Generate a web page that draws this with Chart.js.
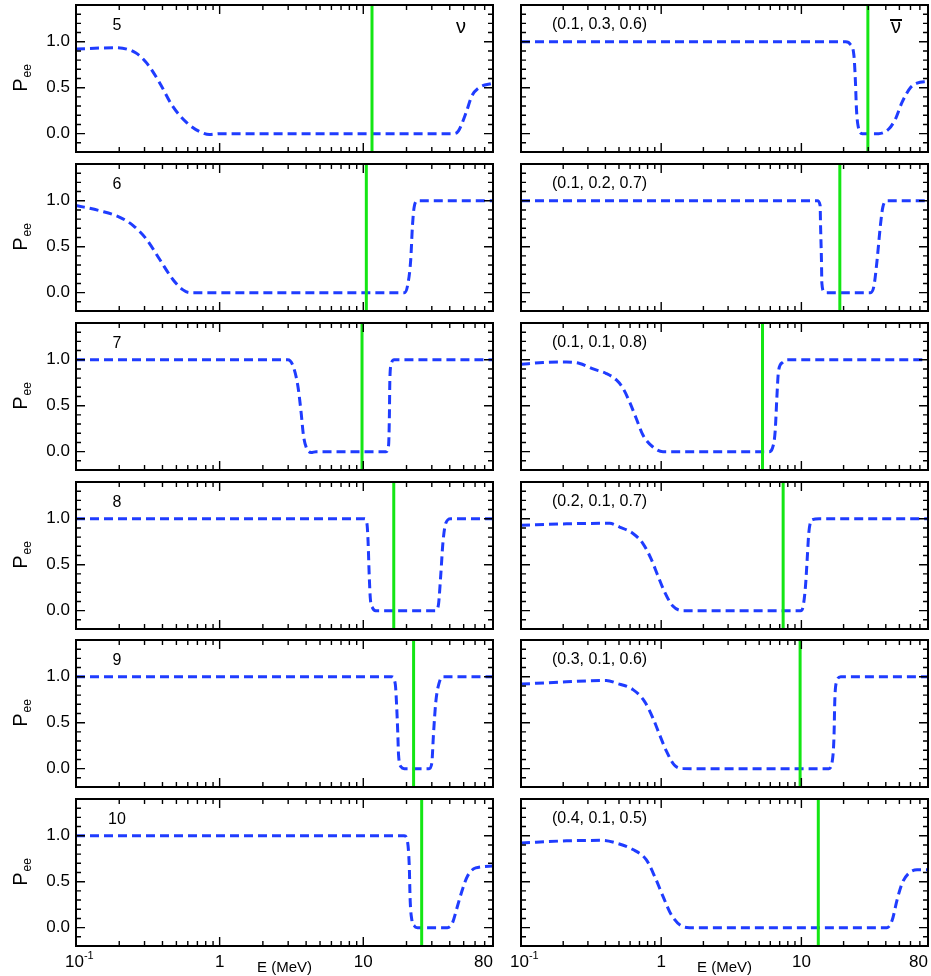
<!DOCTYPE html>
<html>
<head>
<meta charset="utf-8">
<script src="https://cdn.jsdelivr.net/npm/chart.js@4.4.1/dist/chart.umd.min.js"></script>
<style>
  body { margin: 0; background: #fff; width: 931px; height: 976px; position: relative; overflow: hidden; }
  canvas { position: absolute; }
</style>
</head>
<body>
<script>
// ---- data: energy E (MeV) and P_ee ----
// left column (nu), labelled 5..10
const e5 = [0.1, 0.19, 0.26, 0.31, 0.38, 0.47, 0.59, 0.73, 0.85, 1.0, 43, 46, 52, 57, 64, 80];
const p5 = [0.92, 0.935, 0.88, 0.77, 0.56, 0.30, 0.12, 0.02, -0.01, 0, 0, 0.03, 0.23, 0.41, 0.50, 0.55];
const e6 = [0.1, 0.147, 0.202, 0.25, 0.31, 0.383, 0.474, 0.556, 0.619, 19.3, 20.3, 21.4, 22.0, 22.6, 23.8, 80];
const p6 = [0.95, 0.89, 0.82, 0.73, 0.58, 0.36, 0.14, 0.03, 0, 0, 0.07, 0.36, 0.73, 0.93, 1.0, 1.0];
const e7 = [0.1, 2.98, 3.23, 3.50, 3.69, 3.83, 4.00, 4.33, 4.69, 14.4, 15.0, 15.2, 15.3, 15.6, 16.4, 80];
const p7 = [1, 1, 0.94, 0.72, 0.43, 0.18, 0.05, -0.01, 0, 0, 0.07, 0.40, 0.76, 0.94, 1, 1];
const e8 = [0.1, 10.2, 10.6, 10.8, 11.0, 11.2, 11.6, 12.2, 32.0, 33.4, 34.6, 35.9, 37.5, 40.6, 80];
const p8 = [1, 1, 0.95, 0.75, 0.38, 0.13, 0.03, 0, 0, 0.07, 0.38, 0.75, 0.95, 1.0, 1.0];
const e9 = [0.1, 15.8, 16.7, 17.1, 17.4, 17.6, 18.3, 19.3, 28.7, 30.0, 30.8, 32.0, 33.7, 35.6, 80];
const p9 = [1, 1, 0.92, 0.66, 0.37, 0.15, 0.02, 0, 0, 0.06, 0.37, 0.73, 0.93, 1, 1];
const e10 = [0.1, 19.3, 20.3, 20.9, 21.2, 21.8, 22.6, 23.8, 38.5, 41.7, 45.2, 48.9, 53.1, 60.6, 80];
const p10 = [1, 1, 0.94, 0.67, 0.30, 0.08, 0.02, 0, 0, 0.05, 0.23, 0.41, 0.56, 0.65, 0.67];

// right column (anti-nu), labelled by mixture
const eA = [0.1, 20.7, 22.4, 23.7, 24.3, 24.7, 25.4, 27.2, 35.6, 42.0, 46.9, 52.2, 59.9, 66.8, 80];
const pA = [1, 1, 0.97, 0.85, 0.56, 0.27, 0.08, 0, 0, 0.05, 0.16, 0.34, 0.50, 0.55, 0.57];
const eB = [0.1, 13.0, 13.6, 13.7, 13.9, 14.0, 14.5, 15.3, 31.1, 32.9, 34.7, 36.6, 38.1, 40.8, 80];
const pB = [1, 1, 0.95, 0.73, 0.36, 0.10, 0.01, 0, 0, 0.07, 0.36, 0.73, 0.93, 1, 1];
const eC = [0.1, 0.144, 0.211, 0.262, 0.327, 0.406, 0.479, 0.534, 0.595, 0.664, 0.741, 0.873, 1.03, 5.89, 6.22, 6.50, 6.68, 6.86, 7.33, 7.95, 80];
const pC = [0.95, 0.97, 0.975, 0.96, 0.90, 0.85, 0.78, 0.69, 0.54, 0.36, 0.18, 0.05, 0, 0, 0.04, 0.22, 0.58, 0.87, 0.97, 1, 1];
const eD = [0.1, 0.211, 0.429, 0.505, 0.629, 0.741, 0.849, 0.947, 1.06, 1.21, 1.43, 9.89, 10.3, 10.7, 11.0, 11.3, 12.0, 13.4, 80];
const pD = [0.93, 0.945, 0.95, 0.91, 0.84, 0.73, 0.56, 0.38, 0.20, 0.05, 0, 0, 0.05, 0.27, 0.56, 0.85, 0.99, 1, 1];
const eE = [0.1, 0.211, 0.406, 0.479, 0.629, 0.762, 0.873, 0.973, 1.09, 1.24, 1.43, 15.7, 16.6, 17.1, 17.3, 17.7, 19.1, 80];
const pE = [0.92, 0.945, 0.96, 0.93, 0.86, 0.73, 0.55, 0.37, 0.19, 0.04, 0, 0, 0.08, 0.37, 0.73, 0.93, 1, 1];
const eF = [0.1, 0.211, 0.385, 0.479, 0.629, 0.782, 0.897, 1.03, 1.18, 1.43, 1.59, 40.8, 44.4, 48.1, 52.2, 58.2, 66.8, 80];
const pF = [0.92, 0.945, 0.95, 0.92, 0.85, 0.74, 0.56, 0.34, 0.14, 0.01, 0, 0, 0.08, 0.30, 0.48, 0.59, 0.63, 0.63];

// green vertical lines (MeV)
const crossLeft = [11.5, 10.5, 9.8, 16.3, 22.4, 25.5];
const crossRight = [29.8, 18.8, 5.28, 7.41, 9.79, 13.2];

const labelsLeft = ['5', '6', '7', '8', '9', '10'];
const labelsRight = ['(0.1, 0.3, 0.6)', '(0.1, 0.2, 0.7)', '(0.1, 0.1, 0.8)', '(0.2, 0.1, 0.7)', '(0.3, 0.1, 0.6)', '(0.4, 0.1, 0.5)'];

const yTickValues = [0, 0.5, 1.0];
const xTickValues = [0.1, 1, 10, 80];
const xTickLabels = ['10', '1', '10', '80'];
const xAxisTitle = 'E (MeV)';
const yAxisTitle = ['P', 'ee'];

const leftE = [e5, e6, e7, e8, e9, e10], leftP = [p5, p6, p7, p8, p9, p10];
const rightE = [eA, eB, eC, eD, eE, eF], rightP = [pA, pB, pC, pD, pE, pF];

const FONT = '"Liberation Sans", Arial, Helvetica, sans-serif';
const rowTops = [5, 164, 323, 482, 640, 799];

// inward ticks, frame and text labels
const framePlugin = {
  id: 'frame',
  afterDatasetsDraw(chart) {
    const { ctx, chartArea: a, scales: { x, y } } = chart;
    const o = chart.options.plugins.frame;
    ctx.save();
    ctx.strokeStyle = '#000';
    ctx.lineWidth = 1.4;
    ctx.beginPath();
    for (let i = -1; i <= 13; i++) {
      const py = y.getPixelForValue(i / 10);
      const len = i % 5 === 0 ? 9 : 5;
      ctx.moveTo(a.left, py); ctx.lineTo(a.left + len, py);
      ctx.moveTo(a.right, py); ctx.lineTo(a.right - len, py);
    }
    for (const dec of [0.1, 1, 10]) {
      for (let k = 1; k <= 9; k++) {
        const v = k * dec;
        if (v <= 0.1 || v >= 80.5) continue;
        const px = x.getPixelForValue(v);
        const len = k === 1 ? 9 : 5;
        ctx.moveTo(px, a.top); ctx.lineTo(px, a.top + len);
        ctx.moveTo(px, a.bottom); ctx.lineTo(px, a.bottom - len);
      }
    }
    ctx.stroke();
    ctx.lineWidth = 2;
    ctx.strokeRect(a.left, a.top, a.right - a.left, a.bottom - a.top);

    ctx.fillStyle = '#000';
    ctx.textBaseline = 'middle';
    ctx.font = '16px ' + FONT;
    if (o.col === 0) {
      ctx.textAlign = 'center';
      ctx.fillText(o.label, a.left + 41, a.top + 21);
    } else {
      ctx.textAlign = 'left';
      ctx.fillText(o.label, a.left + 31, a.top + 20);
    }

    // neutrino symbols in the top row
    if (o.row === 0) {
      ctx.font = '20px ' + FONT;
      ctx.textAlign = 'center';
      const nx = a.right - 32;
      ctx.fillText('\u03bd', nx, a.top + 22);
      if (o.col === 1) {
        ctx.fillRect(nx - 6, a.top + 14, 12, 2);
      }
    }

    // y axis title P_ee
    if (o.col === 0) {
      ctx.save();
      ctx.translate(27, (a.top + a.bottom) / 2);
      ctx.rotate(-Math.PI / 2);
      ctx.textBaseline = 'alphabetic';
      ctx.textAlign = 'left';
      ctx.font = '20px ' + FONT;
      const wP = ctx.measureText(yAxisTitle[0]).width;
      ctx.font = '12px ' + FONT;
      const wS = ctx.measureText(yAxisTitle[1]).width;
      const s = -(wP + wS) / 2;
      ctx.font = '20px ' + FONT;
      ctx.fillText(yAxisTitle[0], s, 0);
      ctx.font = '12px ' + FONT;
      ctx.fillText(yAxisTitle[1], s + wP + 1, 4);
      ctx.restore();
    }

    // x tick labels and title on the bottom row
    if (o.row === 5) {
      const ly = a.bottom + 16;
      ctx.textBaseline = 'middle';
      ctx.font = '17px ' + FONT;
      xTickValues.forEach((v, i) => {
        const px = x.getPixelForValue(v);
        if (i === 0) {
          ctx.textAlign = 'left';
          ctx.fillText(xTickLabels[i], px - 11, ly);
          const w = ctx.measureText(xTickLabels[i]).width;
          ctx.font = '11px ' + FONT;
          ctx.fillText('-1', px - 11 + w, ly - 6);
          ctx.font = '17px ' + FONT;
        } else if (i === xTickValues.length - 1) {
          ctx.textAlign = 'right';
          ctx.fillText(xTickLabels[i], px, ly);
        } else {
          ctx.textAlign = 'center';
          ctx.fillText(xTickLabels[i], px, ly);
        }
      });
      ctx.font = '15px ' + FONT;
      ctx.textAlign = 'center';
      ctx.fillText(xAxisTitle, (a.left + a.right) / 2, a.bottom + 22);
    }
    ctx.restore();
  }
};

function makePanel(col, row) {
  const E = col === 0 ? leftE[row] : rightE[row];
  const P = col === 0 ? leftP[row] : rightP[row];
  const cross = col === 0 ? crossLeft[row] : crossRight[row];
  const label = col === 0 ? labelsLeft[row] : labelsRight[row];

  const canvas = document.createElement('canvas');
  const w = col === 0 ? 500 : 431;
  const h = row === 5 ? 182 : 157;
  canvas.width = w; canvas.height = h;
  canvas.style.left = (col === 0 ? 0 : 500) + 'px';
  canvas.style.top = (rowTops[row] - 5) + 'px';
  canvas.style.width = w + 'px'; canvas.style.height = h + 'px';
  document.body.appendChild(canvas);

  new Chart(canvas.getContext('2d'), {
    type: 'line',
    data: {
      datasets: [
        {
          data: [{ x: cross, y: -0.2 }, { x: cross, y: 1.4 }],
          borderColor: '#14e614',
          borderWidth: 3,
          pointRadius: 0
        },
        {
          data: E.map((e, j) => ({ x: e, y: P[j] })),
          borderColor: '#1f3cff',
          borderWidth: 3,
          borderDash: [9, 5],
          pointRadius: 0,
          cubicInterpolationMode: 'monotone',
          fill: false
        }
      ]
    },
    options: {
      responsive: false,
      animation: false,
      devicePixelRatio: 1,
      events: [],
      layout: {
        padding: { left: col === 0 ? 0 : 21, right: col === 0 ? 7 : 3, top: 5, bottom: row === 5 ? 30 : 5 }
      },
      plugins: {
        legend: { display: false },
        tooltip: { enabled: false },
        frame: { col: col, row: row, label: label }
      },
      scales: {
        x: { type: 'logarithmic', min: 0.1, max: 80, display: false },
        y: {
          min: -0.2, max: 1.4,
          display: col === 0,
          grid: { display: false, drawTicks: false },
          border: { display: false },
          afterBuildTicks: s => { s.ticks = yTickValues.map(v => ({ value: v })); },
          afterFit: s => {
            s.width = col === 0 ? 76 : 0;
            s.paddingTop = 0;
            s.paddingBottom = 0;
          },
          ticks: {
            padding: 6,
            color: '#000',
            font: { family: FONT, size: 17 },
            callback: v => Number(v).toFixed(1)
          }
        }
      }
    },
    plugins: [framePlugin]
  });
}

for (let row = 0; row < 6; row++) {
  makePanel(0, row);
  makePanel(1, row);
}
</script>
</body>
</html>
